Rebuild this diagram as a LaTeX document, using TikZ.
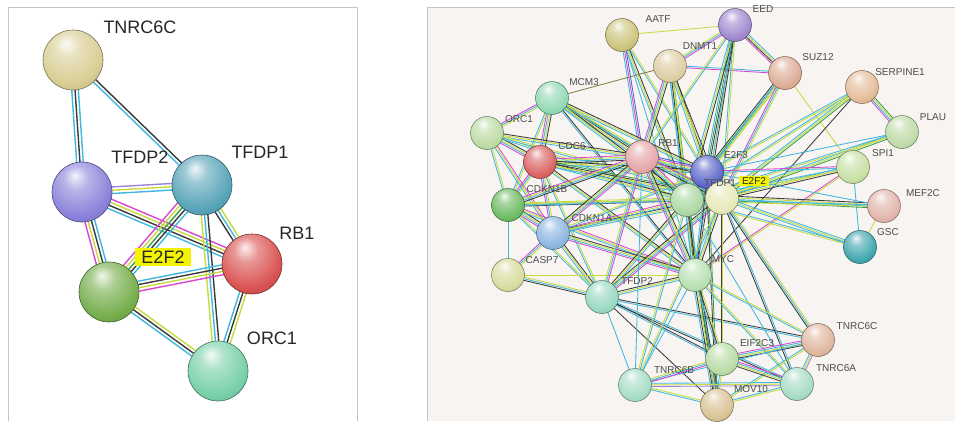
\documentclass[tikz,border=0pt]{standalone}
\usepackage{fontspec}
\setmainfont{Liberation Sans}
\usetikzlibrary{calc}
\definecolor{sC}{HTML}{3FB8DE}
\definecolor{sK}{HTML}{3A3A3A}
\definecolor{sY}{HTML}{C9DA3E}
\definecolor{sM}{HTML}{D846D2}
\definecolor{sG}{HTML}{35A048}
\definecolor{sB}{HTML}{4A66D0}
\definecolor{sL}{HTML}{9C82D8}
\definecolor{sO}{HTML}{8C7D45}
\definecolor{rbg}{HTML}{F7F4F2}
\definecolor{framec}{HTML}{C4C4C4}
\definecolor{hl}{HTML}{F4F400}
% left node colours
\definecolor{cTNRCl}{HTML}{D8CE94}
\definecolor{cTFDPtwol}{HTML}{8A82DA}
\definecolor{cTFDPonel}{HTML}{58A4B8}
\definecolor{cRBl}{HTML}{DA5252}
\definecolor{cEtwol}{HTML}{76AE4C}
\definecolor{cORCl}{HTML}{78D0A8}
% right node colours
\definecolor{cAATF}{HTML}{CCC47C}
\definecolor{cDNMT}{HTML}{DCCDA2}
\definecolor{cEED}{HTML}{A088D0}
\definecolor{cSUZ}{HTML}{DDAC96}
\definecolor{cSERP}{HTML}{E4BC98}
\definecolor{cPLAU}{HTML}{BEDBA8}
\definecolor{cMCM}{HTML}{92D8B4}
\definecolor{cORC}{HTML}{BCDBA4}
\definecolor{cCDC}{HTML}{DA6262}
\definecolor{cRB}{HTML}{E6A6A8}
\definecolor{cEthree}{HTML}{5C66C8}
\definecolor{cTFDPone}{HTML}{ACD8A4}
\definecolor{cEtwo}{HTML}{E6E8B8}
\definecolor{cSPI}{HTML}{C8E0A4}
\definecolor{cMEF}{HTML}{E2B4AC}
\definecolor{cGSC}{HTML}{40A6AE}
\definecolor{cCDKB}{HTML}{6CBA62}
\definecolor{cCDKA}{HTML}{8CB6E0}
\definecolor{cCASP}{HTML}{D8DB9E}
\definecolor{cTFDPtwo}{HTML}{98D8C2}
\definecolor{cMYC}{HTML}{B8E0B2}
\definecolor{cTNRCC}{HTML}{E0B69E}
\definecolor{cEIF}{HTML}{B8DCA6}
\definecolor{cTNRCA}{HTML}{A6DCC6}
\definecolor{cTNRCB}{HTML}{A6DCC6}
\definecolor{cMOV}{HTML}{D8C294}

\makeatletter
\pgfdeclareradialshading[tikz@ball]{sball}{\pgfqpoint{-6bp}{14bp}}{%
 color(0bp)=(tikz@ball!10!white);
 color(10bp)=(tikz@ball!60!white);
 color(28bp)=(tikz@ball);
 color(44bp)=(tikz@ball!80!black);
 color(64bp)=(tikz@ball!45!black)}
\makeatother

\pgfdeclarelayer{bg}
\pgfdeclarelayer{edges}
\pgfsetlayers{bg,edges,main}

\def\bsep{3.2}
\newcommand\ebund[3]{%
  \xdef\bcount{0}%
  \foreach \cc in {#3}{\pgfmathtruncatemacro\tmpn{\bcount+1}\xdef\bcount{\tmpn}}%
  \foreach \cc [count=\ii] in {#3}{%
    \pgfmathsetmacro\off{(\ii-(\bcount+1)/2)*\bsep}%
    \draw[\cc] ($(#1)!\off pt!90:(#2)$) -- ($(#2)!\off pt!-90:(#1)$);%
  }%
}

\tikzset{
  lball/.style={circle, inner sep=0pt, minimum size=60pt, draw=#1!55!black, line width=0.6pt, shade, ball color=#1, shading=sball},
  rball/.style={circle, inner sep=0pt, minimum size=33pt, draw=#1!55!black, line width=0.5pt, shade, ball color=#1, shading=sball},
  llab/.style={font=\fontsize{18}{20}\selectfont, text=black!85, inner sep=0pt},
  rlab/.style={font=\fontsize{10}{12}\selectfont, text=black!70, inner sep=0pt},
  lhl/.style={llab, fill=hl, inner xsep=6pt, inner ysep=3pt},
  rhl/.style={rlab, fill=hl, inner xsep=3pt, inner ysep=1.5pt, text=black!85},
}

\begin{document}
\begin{tikzpicture}[x=1pt,y=-1pt]
\useasboundingbox (0,0) rectangle (955,421);
\begin{pgfonlayer}{bg}
  \fill[white] (0,0) rectangle (955,421);
  \fill[rbg] (427,7) rectangle (955,421);
  \draw[framec, line width=1pt] (427,421) -- (427,7) -- (955,7);
  \draw[framec, line width=1pt] (8,421) -- (8,7) -- (357,7) -- (357,421);
\end{pgfonlayer}

% ---------------- left panel ----------------
\node[lball=cTNRCl]   (L-TNRC6C) at (73,60)  {};
\node[lball=cTFDPtwol] (L-TFDP2) at (82,192) {};
\node[lball=cTFDPonel] (L-TFDP1) at (202,185) {};
\node[lball=cRBl]     (L-RB1)    at (252,264) {};
\node[lball=cEtwol]   (L-E2F2)   at (109,292) {};
\node[lball=cORCl]    (L-ORC1)   at (218,371) {};

\node[llab] (Lt-TNRC6C) at (140,27)  {TNRC6C};
\node[llab] (Lt-TFDP2)  at (140,157) {TFDP2};
\node[llab] (Lt-TFDP1)  at (260,152) {TFDP1};
\node[llab] (Lt-RB1)    at (297,233) {RB1};
\node[lhl]  (Lt-E2F2)   at (163,257) {E2F2};
\node[llab] (Lt-ORC1)   at (272,338) {ORC1};

\begin{pgfonlayer}{edges}
\begin{scope}[line width=1.4pt]
\def\bsep{3.3}
\ebund{L-TNRC6C}{L-TFDP2}{sC,sK,sC}
\ebund{L-TNRC6C}{L-TFDP1}{sC,sK}
\ebund{L-TFDP2}{L-TFDP1}{sC,sY,sL}
\ebund{L-TFDP2}{L-RB1}{sC,sK,sY,sM}
\ebund{L-TFDP2}{L-E2F2}{sM,sY,sK,sC}
\ebund{L-TFDP1}{L-E2F2}{sM,sY,sG,sK,sC}
\ebund{L-TFDP1}{L-RB1}{sK,sC,sY}
\ebund{L-TFDP1}{L-ORC1}{sY,sC,sK}
\ebund{L-RB1}{L-E2F2}{sC,sK,sY,sM}
\ebund{L-RB1}{L-ORC1}{sC,sK,sY}
\ebund{L-E2F2}{L-ORC1}{sC,sK,sY}
\end{scope}
\end{pgfonlayer}

% ---------------- right panel ----------------
\node[rball=cAATF]   (AATF)    at (622,35)  {};
\node[rball=cDNMT]   (DNMT1)   at (670,66)  {};
\node[rball=cEED]    (EED)     at (735,25)  {};
\node[rball=cSUZ]    (SUZ12)   at (785,73)  {};
\node[rball=cSERP]   (SERPINE1) at (862,87) {};
\node[rball=cPLAU]   (PLAU)    at (902,132) {};
\node[rball=cMCM]    (MCM3)    at (552,98)  {};
\node[rball=cORC]    (ORC1)    at (487,133) {};
\node[rball=cCDC]    (CDC6)    at (540,162) {};
\node[rball=cRB]     (RB1)     at (642,157) {};
\node[rball=cEthree] (E2F3)    at (707,172) {};
\node[rball=cTFDPone] (TFDP1)  at (687,200) {};
\node[rball=cEtwo]   (E2F2)    at (722,198) {};
\node[rball=cSPI]    (SPI1)    at (853,167) {};
\node[rball=cMEF]    (MEF2C)   at (884,206) {};
\node[rball=cGSC]    (GSC)     at (860,247) {};
\node[rball=cCDKB]   (CDKN1B)  at (508,205) {};
\node[rball=cCDKA]   (CDKN1A)  at (553,233) {};
\node[rball=cCASP]   (CASP7)   at (508,275) {};
\node[rball=cTFDPtwo] (TFDP2)  at (602,297) {};
\node[rball=cMYC]    (MYC)     at (695,275) {};
\node[rball=cTNRCC]  (TNRC6C)  at (818,340) {};
\node[rball=cEIF]    (EIF2C3)  at (722,359) {};
\node[rball=cTNRCA]  (TNRC6A)  at (797,384) {};
\node[rball=cTNRCB]  (TNRC6B)  at (635,385) {};
\node[rball=cMOV]    (MOV10)   at (717,405) {};

\node[rlab] (t-AATF)    at (658,19)  {AATF};
\node[rlab] (t-DNMT1)   at (700,46)  {DNMT1};
\node[rlab] (t-EED)     at (763,9)   {EED};
\node[rlab] (t-SUZ12)   at (818,57)  {SUZ12};
\node[rlab] (t-SERPINE1) at (900,72) {SERPINE1};
\node[rlab] (t-PLAU)    at (933,117) {PLAU};
\node[rlab] (t-MCM3)    at (584,82)  {MCM3};
\node[rlab] (t-ORC1)    at (519,119) {ORC1};
\node[rlab] (t-CDC6)    at (572,146) {CDC6};
\node[rlab] (t-RB1)     at (668,143) {RB1};
\node[rlab] (t-E2F3)    at (736,155) {E2F3};
\node[rlab] (t-TFDP1)   at (720,183) {TFDP1};
\node[rhl]  (t-E2F2)    at (754,181) {E2F2};
\node[rlab] (t-SPI1)    at (883,153) {SPI1};
\node[rlab] (t-MEF2C)   at (923,193) {MEF2C};
\node[rlab] (t-GSC)     at (888,232) {GSC};
\node[rlab] (t-CDKN1B)  at (547,189) {CDKN1B};
\node[rlab] (t-CDKN1A)  at (592,218) {CDKN1A};
\node[rlab] (t-CASP7)   at (542,260) {CASP7};
\node[rlab] (t-TFDP2)   at (637,281) {TFDP2};
\node[rlab] (t-MYC)     at (723,259) {MYC};
\node[rlab] (t-TNRC6C)  at (857,326) {TNRC6C};
\node[rlab] (t-EIF2C3)  at (757,343) {EIF2C3};
\node[rlab] (t-TNRC6A)  at (836,368) {TNRC6A};
\node[rlab] (t-TNRC6B)  at (674,370) {TNRC6B};
\node[rlab] (t-MOV10)   at (751,389) {MOV10};

\begin{pgfonlayer}{edges}
\begin{scope}[line width=0.85pt]
\def\bsep{1.6}
\ebund{AATF}{EED}{sY}
\ebund{AATF}{RB1}{sC,sM,sB}
\ebund{AATF}{TFDP1}{sC,sY,sK}
\ebund{AATF}{E2F2}{sC,sY}
\ebund{AATF}{MYC}{sC}
\ebund{DNMT1}{MCM3}{sO}
\ebund{DNMT1}{EED}{sM,sC,sY}
\ebund{DNMT1}{SUZ12}{sM,sC}
\ebund{DNMT1}{RB1}{sM,sC,sY,sK}
\ebund{DNMT1}{E2F3}{sC,sY,sK}
\ebund{DNMT1}{TFDP1}{sC,sY,sG}
\ebund{DNMT1}{E2F2}{sY,sK}
\ebund{DNMT1}{MYC}{sC,sK,sY}
\ebund{EED}{SUZ12}{sM,sK,sY,sC}
\ebund{EED}{E2F3}{sC,sG,sK,sY}
\ebund{EED}{TFDP1}{sC,sY,sK}
\ebund{EED}{E2F2}{sC,sY}
\ebund{EED}{MYC}{sC,sK}
\ebund{EED}{RB1}{sY,sC}
\ebund{SUZ12}{E2F3}{sK,sG,sC,sY}
\ebund{SUZ12}{E2F2}{sM,sC,sY}
\ebund{SUZ12}{TFDP1}{sC,sY}
\ebund{SUZ12}{SPI1}{sY}
\ebund{SERPINE1}{PLAU}{sM,sC,sY,sG}
\ebund{SERPINE1}{E2F2}{sC,sY,sG}
\ebund{SERPINE1}{TFDP1}{sC,sY}
\ebund{SERPINE1}{E2F3}{sC,sY}
\ebund{SERPINE1}{MYC}{sK}
\ebund{PLAU}{E2F2}{sC,sY,sG}
\ebund{PLAU}{TFDP1}{sC,sY}
\ebund{PLAU}{E2F3}{sC}
\ebund{SPI1}{E2F2}{sC,sY,sK}
\ebund{SPI1}{TFDP1}{sC,sY}
\ebund{SPI1}{E2F3}{sM,sC}
\ebund{SPI1}{GSC}{sC}
\ebund{SPI1}{MYC}{sM,sY}
\ebund{MEF2C}{E2F2}{sK,sY,sC,sG}
\ebund{MEF2C}{TFDP1}{sC,sY}
\ebund{MEF2C}{GSC}{sY}
\ebund{MEF2C}{E2F3}{sC}
\ebund{GSC}{E2F2}{sC,sY,sC}
\ebund{GSC}{TFDP1}{sC,sY}
\ebund{MCM3}{ORC1}{sM,sC,sY}
\ebund{MCM3}{CDC6}{sM,sC,sY,sK}
\ebund{MCM3}{RB1}{sC,sY,sK,sG}
\ebund{MCM3}{E2F3}{sC,sY,sK}
\ebund{MCM3}{TFDP1}{sC,sY,sK}
\ebund{MCM3}{E2F2}{sC,sY}
\ebund{MCM3}{CDKN1B}{sC,sY}
\ebund{MCM3}{MYC}{sC,sK}
\ebund{ORC1}{CDC6}{sM,sC,sY,sK}
\ebund{ORC1}{RB1}{sC,sY,sK}
\ebund{ORC1}{TFDP1}{sC,sY}
\ebund{ORC1}{E2F2}{sC,sY}
\ebund{ORC1}{CDKN1B}{sC,sY}
\ebund{ORC1}{CDKN1A}{sC,sY,sM}
\ebund{CDC6}{RB1}{sK,sC,sY,sM}
\ebund{CDC6}{E2F3}{sC,sY,sK}
\ebund{CDC6}{TFDP1}{sC,sY,sK}
\ebund{CDC6}{E2F2}{sC,sY,sK,sG}
\ebund{CDC6}{CDKN1B}{sM,sC,sY}
\ebund{CDC6}{CDKN1A}{sM,sC,sY}
\ebund{CDC6}{MYC}{sC,sY,sK}
\ebund{CDC6}{TFDP2}{sC,sY}
\ebund{CDKN1B}{CDKN1A}{sM,sC,sY,sK}
\ebund{CDKN1B}{RB1}{sK,sC,sY,sM}
\ebund{CDKN1B}{E2F2}{sK,sC,sY}
\ebund{CDKN1B}{TFDP1}{sC,sY}
\ebund{CDKN1B}{MYC}{sC,sY,sM}
\ebund{CDKN1B}{TFDP2}{sC,sY}
\ebund{CDKN1B}{CASP7}{sC}
\ebund{CDKN1A}{CASP7}{sM,sC,sY}
\ebund{CDKN1A}{TFDP2}{sC,sY,sK}
\ebund{CDKN1A}{RB1}{sM,sC,sY,sK}
\ebund{CDKN1A}{MYC}{sM,sC,sY,sK}
\ebund{CDKN1A}{E2F2}{sC,sY,sK}
\ebund{CDKN1A}{TFDP1}{sC,sY,sM}
\ebund{CDKN1A}{E2F3}{sC,sY}
\ebund{CASP7}{TFDP2}{sK,sC,sY}
\ebund{CASP7}{MYC}{sY}
\ebund{TFDP2}{MYC}{sC,sY,sK}
\ebund{TFDP2}{E2F2}{sM,sC,sY,sK}
\ebund{TFDP2}{TFDP1}{sC,sY,sK}
\ebund{TFDP2}{RB1}{sM,sC,sY}
\ebund{TFDP2}{TNRC6B}{sC}
\ebund{TFDP2}{TNRC6C}{sC,sK}
\ebund{TFDP2}{EIF2C3}{sC,sK}
\ebund{TFDP2}{TNRC6A}{sK,sC}
\ebund{TFDP2}{MOV10}{sK}
\ebund{RB1}{E2F3}{sK,sC,sY,sM,sB}
\ebund{RB1}{TFDP1}{sK,sC,sY,sM}
\ebund{RB1}{E2F2}{sK,sC,sY,sM}
\ebund{RB1}{MYC}{sM,sC,sY,sK}
\ebund{RB1}{TNRC6B}{sC}
\ebund{E2F3}{TFDP1}{sC,sY,sK}
\ebund{E2F3}{E2F2}{sC,sY}
\ebund{E2F3}{MYC}{sC,sK}
\ebund{E2F3}{MOV10}{sK,sG}
\ebund{TFDP1}{E2F2}{sC}
\ebund{TFDP1}{MYC}{sC,sY,sK,sG}
\ebund{TFDP1}{MOV10}{sK,sC}
\ebund{TFDP1}{TNRC6A}{sC}
\ebund{E2F2}{MYC}{sC,sY,sK}
\ebund{E2F2}{TNRC6C}{sK,sC,sY}
\ebund{E2F2}{TNRC6A}{sK,sC}
\ebund{E2F2}{EIF2C3}{sK,sY}
\ebund{MYC}{MOV10}{sC,sK,sY,sG,sK}
\ebund{MYC}{EIF2C3}{sC,sK,sY}
\ebund{MYC}{TNRC6B}{sC}
\ebund{MYC}{TNRC6A}{sC,sY}
\ebund{MYC}{TNRC6C}{sC,sY}
\ebund{TNRC6B}{TFDP1}{sC,sY}
\ebund{TNRC6B}{E2F2}{sC,sY}
\ebund{TNRC6C}{TNRC6A}{sC,sY,sL}
\ebund{TNRC6C}{EIF2C3}{sM,sC,sY,sK}
\ebund{TNRC6C}{MOV10}{sC,sY}
\ebund{TNRC6C}{TNRC6B}{sC}
\ebund{TNRC6A}{EIF2C3}{sM,sC,sY,sK}
\ebund{TNRC6A}{MOV10}{sC,sY}
\ebund{TNRC6A}{TNRC6B}{sC,sY,sL}
\ebund{TNRC6B}{EIF2C3}{sM,sC,sY}
\ebund{TNRC6B}{MOV10}{sC,sY}
\ebund{EIF2C3}{MOV10}{sC,sY}
\end{scope}
\end{pgfonlayer}
\end{tikzpicture}
\end{document}
